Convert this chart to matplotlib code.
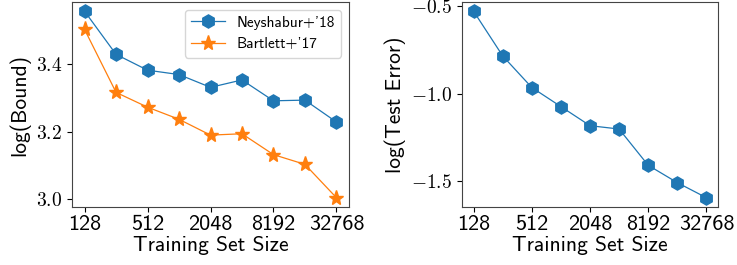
import matplotlib
matplotlib.use("Agg")
import matplotlib.pyplot as plt
from matplotlib.ticker import FixedLocator, FuncFormatter

# training set sizes
sizes = [128, 256, 512, 1024, 2048, 4096, 8192, 16384, 32768]
x_ticks = [128, 512, 2048, 8192, 32768]

# log(bound) values
neyshabur = [3.558, 3.430, 3.383, 3.370, 3.332, 3.354, 3.292, 3.294, 3.229]
bartlett = [3.504, 3.317, 3.273, 3.237, 3.190, 3.194, 3.132, 3.103, 3.004]

# log(test error)
test_err = [-0.529, -0.784, -0.964, -1.073, -1.182, -1.201, -1.408, -1.507, -1.593]

plt.rcParams['mathtext.fontset'] = 'cm'
plt.rcParams['font.family'] = 'cmss10'
plt.rcParams['axes.unicode_minus'] = False

fig = plt.figure(figsize=(7.37, 2.65), dpi=100)
ax1 = fig.add_axes([72 / 737, 58 / 265, 277 / 737, 205 / 265])
ax2 = fig.add_axes([462 / 737, 58 / 265, 256 / 737, 205 / 265])

ax1.plot(sizes, neyshabur, marker='h', markersize=9.5, linewidth=0.9,
         color='#1f77b4', label="Neyshabur+'18")
ax1.plot(sizes, bartlett, marker='*', markersize=11, linewidth=0.9,
         color='#ff7f0e', label="Bartlett+'17")
ax1.set_ylabel('log(Bound)', fontsize=15.5)
ax1.set_yticks([3.0, 3.2, 3.4])
leg = ax1.legend(loc='upper right', fontsize=11, handlelength=2.2)

ax2.plot(sizes, test_err, marker='h', markersize=9.5, linewidth=0.9,
         color='#1f77b4')
ax2.set_ylabel('log(Test Error)', fontsize=15.5)
ax2.set_yticks([-1.5, -1.0, -0.5])

for ax in (ax1, ax2):
    ax.set_xscale('log', base=2)
    ax.xaxis.set_major_locator(FixedLocator(x_ticks))
    ax.xaxis.set_minor_locator(FixedLocator([]))
    ax.xaxis.set_major_formatter(FuncFormatter(lambda v, p: str(int(round(v)))))
    ax.yaxis.set_major_formatter(FuncFormatter(lambda v, p: '$%.1f$' % v))
    ax.set_xlabel('Training Set Size', fontsize=15.5, labelpad=2)
    ax.tick_params(axis='x', labelsize=16, pad=2)
    ax.tick_params(axis='y', labelsize=14)
    for s in ax.spines.values():
        s.set_color('#444444')

fig.savefig('out.png', dpi=100)
